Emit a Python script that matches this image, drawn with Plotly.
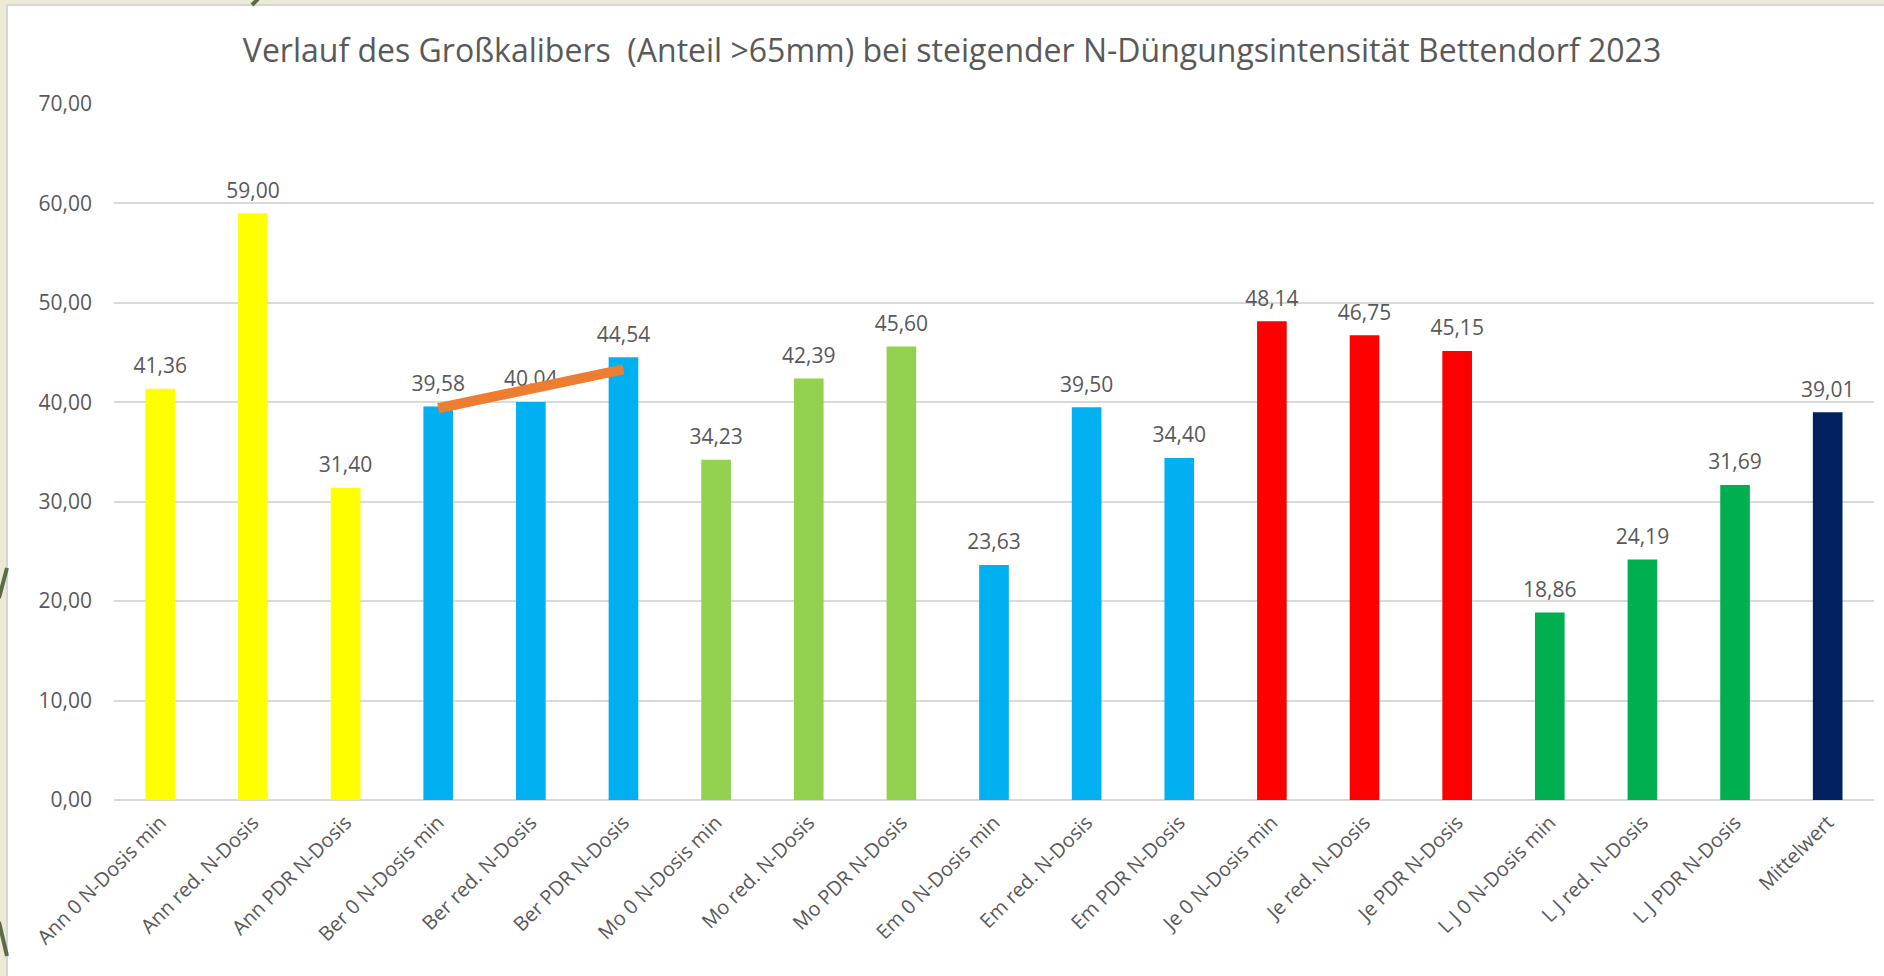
import plotly.graph_objects as go

categories = [
    "Ann 0 N-Dosis min", "Ann red. N-Dosis", "Ann PDR N-Dosis",
    "Ber 0 N-Dosis min", "Ber red. N-Dosis", "Ber PDR N-Dosis",
    "Mo 0 N-Dosis min", "Mo red. N-Dosis", "Mo PDR N-Dosis",
    "Em 0 N-Dosis min", "Em red. N-Dosis", "Em PDR N-Dosis",
    "Je 0 N-Dosis min", "Je red. N-Dosis", "Je PDR N-Dosis",
    "L J 0 N-Dosis min", "L J red. N-Dosis", "L J PDR N-Dosis",
    "Mittelwert",
]
values = [41.36, 59.00, 31.40, 39.58, 40.04, 44.54, 34.23, 42.39, 45.60,
          23.63, 39.50, 34.40, 48.14, 46.75, 45.15, 18.86, 24.19, 31.69, 39.01]
bar_colors = ["#FFFF00"] * 3 + ["#00B0F0"] * 3 + ["#92D050"] * 3 + ["#00B0F0"] * 3 + \
             ["#FF0000"] * 3 + ["#00B050"] * 3 + ["#002060"]

trend_x = ["Ber 0 N-Dosis min", "Ber PDR N-Dosis"]
trend_y = [39.4, 43.3]

title = "Verlauf des Großkalibers  (Anteil >65mm) bei steigender N-Düngungsintensität Bettendorf 2023"

W, H = 1884, 976
ML, MR, MT, MB = 114, 10, 104, 176
PW, PH = W - ML - MR, H - MT - MB
FONT = "Open Sans"
GREY = "#595959"

labels = [f"{v:.2f}".replace(".", ",") for v in values]

fig = go.Figure()
fig.add_trace(go.Bar(x=categories, y=values, marker=dict(color=bar_colors, line=dict(width=0)),
                     width=0.32, showlegend=False, hoverinfo="x+y"))
fig.add_trace(go.Scatter(x=categories, y=values, mode="markers+text", text=labels,
                         textposition="top center",
                         marker=dict(size=15, color="rgba(0,0,0,0)"),
                         textfont=dict(family=FONT, size=21, color=GREY),
                         showlegend=False, hoverinfo="skip", cliponaxis=False))
fig.add_trace(go.Scatter(x=trend_x, y=trend_y, mode="lines",
                         line=dict(color="#ED7D31", width=10), showlegend=False,
                         hoverinfo="skip"))

def px2x(p):
    return (p - ML) / PW

def px2y(p):
    return (H - MB - p) / PH

fig.add_shape(type="rect", xref="paper", yref="paper",
              x0=px2x(7), x1=px2x(W + 10), y0=px2y(H + 10), y1=px2y(5),
              fillcolor="white", line=dict(color="#D6D6D6", width=2), layer="below")
# decorative leaf strokes in the slide margin
for (ax0, ay0, ax1, ay1) in [(7, 568, -1, 598), (-1, 922, 7, 956), (252, 5, 258, -1)]:
    fig.add_shape(type="line", xref="paper", yref="paper",
                  x0=px2x(ax0), y0=px2y(ay0), x1=px2x(ax1), y1=px2y(ay1),
                  line=dict(color="#5E6B47", width=4), layer="below")

fig.update_layout(
    width=W, height=H,
    margin=dict(l=ML, r=MR, t=MT, b=MB, pad=0),
    paper_bgcolor="#ECE9D4",
    plot_bgcolor="rgba(0,0,0,0)",
    separators=",.",
    font=dict(family=FONT, color=GREY, size=21),
    title=dict(text=title, x=952 / W, xref="container", xanchor="center",
               y=1 - 51 / H, yanchor="middle", yref="container",
               font=dict(family=FONT, size=32, color=GREY)),
    bargap=0.68,
)
fig.update_yaxes(range=[0, 70], dtick=10, tickformat=".2f", showgrid=True,
                 gridcolor="#D9D9D9", gridwidth=2, zeroline=True, zerolinecolor="#D9D9D9",
                 zerolinewidth=2, showline=False, ticks="", ticklabelstandoff=21,
                 tickfont=dict(family=FONT, size=21, color=GREY), fixedrange=True)
fig.update_xaxes(range=[-0.5, len(categories) - 0.5], tickangle=-45, showgrid=False,
                 showline=False, ticks="", ticklabelstandoff=6,
                 tickfont=dict(family=FONT, size=20, color=GREY), fixedrange=True)

fig.write_html("out.html", config={"displayModeBar": False},
               post_script="document.body.style.margin='0';")
